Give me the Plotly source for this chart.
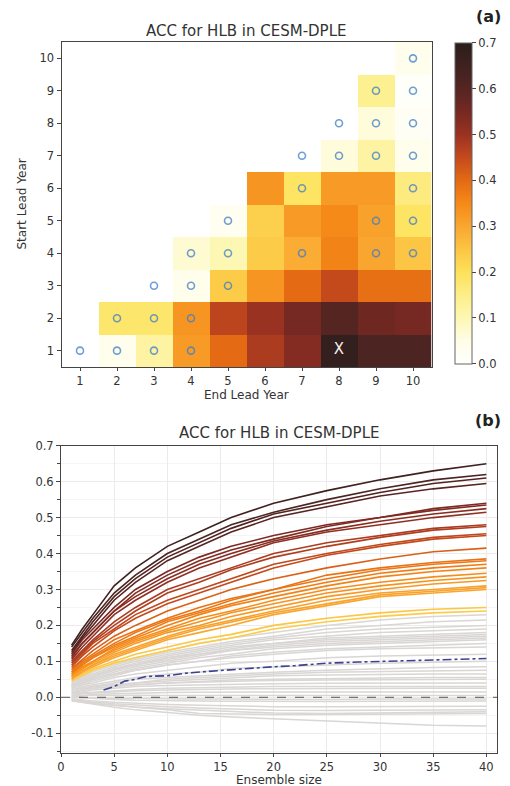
import plotly.graph_objects as go
from plotly.colors import sample_colorscale

# ---------------- data: panel (a) ----------------
END_YEARS = list(range(1, 11))
START_YEARS = list(range(1, 11))
# rows = start lead year 1..10, columns = end lead year 1..10
ACC_ROWS = [
    [0.00, 0.04, 0.12, 0.32, 0.40, 0.48, 0.53, 0.68, 0.62, 0.62],
    [None, 0.18, 0.18, 0.33, 0.46, 0.50, 0.55, 0.60, 0.56, 0.55],
    [None, None, 0.00, 0.04, 0.24, 0.33, 0.40, 0.45, 0.39, 0.39],
    [None, None, None, 0.07, 0.10, 0.24, 0.29, 0.36, 0.30, 0.25],
    [None, None, None, None, 0.03, 0.23, 0.32, 0.35, 0.31, 0.19],
    [None, None, None, None, None, 0.33, 0.19, 0.32, 0.32, 0.16],
    [None, None, None, None, None, None, 0.00, 0.06, 0.12, 0.04],
    [None, None, None, None, None, None, None, 0.00, 0.06, 0.02],
    [None, None, None, None, None, None, None, None, 0.14, 0.01],
    [None, None, None, None, None, None, None, None, None, 0.04],
]
O_END = [1, 2, 3, 4, 2, 3, 4, 3, 4, 5, 4, 5, 7, 9, 10, 5, 9, 10, 7, 10, 7, 8, 9, 10, 8, 9, 10, 9, 10, 10]
O_START = [1, 1, 1, 1, 2, 2, 2, 3, 3, 3, 4, 4, 4, 4, 4, 5, 5, 5, 6, 6, 7, 7, 7, 7, 8, 8, 8, 9, 9, 10]
X_END = [8]
X_START = [1]
CBAR_TICKS = [0.0, 0.1, 0.2, 0.3, 0.4, 0.5, 0.6, 0.7]

# ---------------- data: panel (b) ----------------
ENS = [1, 2, 3, 5, 7, 10, 13, 16, 20, 25, 30, 35, 40]
COLORED = [
    [0.045, 0.06, 0.075, 0.095, 0.11, 0.13, 0.15, 0.165, 0.19, 0.21, 0.225, 0.235, 0.24],
    [0.05, 0.065, 0.08, 0.10, 0.12, 0.14, 0.16, 0.175, 0.20, 0.22, 0.235, 0.245, 0.25],
    [0.05, 0.07, 0.085, 0.11, 0.13, 0.16, 0.18, 0.20, 0.23, 0.255, 0.28, 0.29, 0.30],
    [0.055, 0.07, 0.09, 0.115, 0.135, 0.165, 0.19, 0.21, 0.235, 0.26, 0.285, 0.295, 0.305],
    [0.055, 0.075, 0.09, 0.12, 0.14, 0.17, 0.195, 0.215, 0.24, 0.27, 0.29, 0.30, 0.31],
    [0.06, 0.08, 0.095, 0.125, 0.15, 0.18, 0.20, 0.225, 0.25, 0.28, 0.30, 0.315, 0.325],
    [0.06, 0.08, 0.10, 0.13, 0.155, 0.185, 0.21, 0.235, 0.26, 0.29, 0.31, 0.325, 0.335],
    [0.065, 0.085, 0.10, 0.135, 0.16, 0.19, 0.22, 0.24, 0.27, 0.30, 0.32, 0.335, 0.345],
    [0.065, 0.09, 0.11, 0.14, 0.165, 0.20, 0.23, 0.255, 0.28, 0.31, 0.335, 0.35, 0.36],
    [0.07, 0.09, 0.11, 0.145, 0.17, 0.21, 0.235, 0.26, 0.29, 0.32, 0.345, 0.36, 0.37],
    [0.07, 0.095, 0.115, 0.15, 0.18, 0.215, 0.24, 0.27, 0.30, 0.33, 0.355, 0.37, 0.38],
    [0.075, 0.10, 0.12, 0.16, 0.185, 0.22, 0.25, 0.275, 0.30, 0.34, 0.36, 0.375, 0.385],
    [0.08, 0.105, 0.13, 0.17, 0.20, 0.24, 0.27, 0.30, 0.33, 0.36, 0.385, 0.405, 0.415],
    [0.085, 0.115, 0.14, 0.185, 0.22, 0.26, 0.29, 0.32, 0.36, 0.395, 0.42, 0.44, 0.45],
    [0.09, 0.12, 0.15, 0.19, 0.23, 0.27, 0.30, 0.33, 0.37, 0.40, 0.425, 0.445, 0.455],
    [0.095, 0.125, 0.155, 0.20, 0.24, 0.29, 0.32, 0.355, 0.39, 0.42, 0.445, 0.465, 0.475],
    [0.10, 0.13, 0.16, 0.21, 0.25, 0.30, 0.33, 0.36, 0.40, 0.43, 0.45, 0.47, 0.48],
    [0.105, 0.14, 0.17, 0.23, 0.27, 0.32, 0.36, 0.39, 0.43, 0.46, 0.48, 0.50, 0.515],
    [0.115, 0.15, 0.18, 0.24, 0.28, 0.33, 0.37, 0.40, 0.435, 0.465, 0.49, 0.51, 0.525],
    [0.11, 0.15, 0.18, 0.24, 0.29, 0.34, 0.38, 0.41, 0.44, 0.475, 0.50, 0.52, 0.535],
    [0.12, 0.16, 0.19, 0.25, 0.30, 0.35, 0.39, 0.42, 0.45, 0.48, 0.50, 0.525, 0.54],
    [0.125, 0.165, 0.20, 0.27, 0.32, 0.38, 0.42, 0.46, 0.50, 0.53, 0.56, 0.58, 0.595],
    [0.13, 0.17, 0.21, 0.28, 0.33, 0.39, 0.43, 0.47, 0.51, 0.54, 0.57, 0.595, 0.61],
    [0.14, 0.18, 0.22, 0.29, 0.34, 0.40, 0.44, 0.48, 0.515, 0.55, 0.58, 0.605, 0.62],
    [0.145, 0.19, 0.23, 0.31, 0.36, 0.42, 0.46, 0.50, 0.54, 0.575, 0.605, 0.63, 0.65],
]
GREY = [
    [0.045, 0.06, 0.075, 0.095, 0.11, 0.13, 0.15, 0.165, 0.18, 0.20, 0.215, 0.225, 0.23],
    [0.04, 0.055, 0.07, 0.09, 0.105, 0.125, 0.14, 0.155, 0.17, 0.19, 0.20, 0.21, 0.215],
    [0.04, 0.055, 0.065, 0.085, 0.10, 0.12, 0.135, 0.15, 0.165, 0.18, 0.19, 0.195, 0.20],
    [0.035, 0.05, 0.06, 0.08, 0.095, 0.115, 0.13, 0.145, 0.16, 0.17, 0.18, 0.185, 0.19],
    [0.035, 0.05, 0.06, 0.08, 0.09, 0.11, 0.125, 0.14, 0.15, 0.165, 0.17, 0.175, 0.18],
    [0.03, 0.045, 0.055, 0.075, 0.09, 0.11, 0.12, 0.135, 0.15, 0.16, 0.165, 0.17, 0.175],
    [0.03, 0.04, 0.05, 0.07, 0.085, 0.10, 0.115, 0.13, 0.145, 0.155, 0.16, 0.165, 0.17],
    [0.035, 0.045, 0.055, 0.075, 0.09, 0.105, 0.12, 0.13, 0.14, 0.15, 0.155, 0.16, 0.165],
    [0.03, 0.04, 0.05, 0.065, 0.08, 0.095, 0.11, 0.12, 0.135, 0.145, 0.15, 0.155, 0.16],
    [0.025, 0.035, 0.045, 0.06, 0.075, 0.09, 0.10, 0.115, 0.125, 0.135, 0.14, 0.145, 0.15],
    [0.03, 0.04, 0.05, 0.065, 0.075, 0.09, 0.10, 0.11, 0.12, 0.13, 0.135, 0.138, 0.14],
    [0.025, 0.035, 0.04, 0.055, 0.065, 0.075, 0.085, 0.095, 0.10, 0.11, 0.115, 0.118, 0.12],
    [0.02, 0.03, 0.035, 0.045, 0.055, 0.065, 0.07, 0.08, 0.085, 0.09, 0.095, 0.098, 0.10],
    [0.02, 0.025, 0.03, 0.04, 0.05, 0.055, 0.06, 0.065, 0.07, 0.075, 0.08, 0.083, 0.085],
    [0.015, 0.02, 0.03, 0.035, 0.04, 0.05, 0.055, 0.06, 0.065, 0.07, 0.072, 0.074, 0.075],
    [0.02, 0.025, 0.03, 0.035, 0.04, 0.045, 0.05, 0.055, 0.06, 0.062, 0.064, 0.065, 0.065],
    [0.01, 0.02, 0.025, 0.03, 0.035, 0.04, 0.045, 0.048, 0.05, 0.052, 0.054, 0.055, 0.055],
    [0.015, 0.02, 0.025, 0.03, 0.035, 0.04, 0.042, 0.045, 0.047, 0.048, 0.049, 0.05, 0.05],
    [0.01, 0.015, 0.02, 0.025, 0.03, 0.033, 0.035, 0.037, 0.038, 0.039, 0.04, 0.04, 0.04],
    [0.01, 0.012, 0.015, 0.02, 0.022, 0.025, 0.027, 0.028, 0.03, 0.03, 0.03, 0.03, 0.03],
    [0.005, 0.01, 0.012, 0.015, 0.018, 0.02, 0.022, 0.023, 0.024, 0.025, 0.025, 0.025, 0.025],
    [0.0, 0.005, 0.008, 0.01, 0.012, 0.013, 0.014, 0.015, 0.015, 0.015, 0.015, 0.015, 0.015],
    [0.005, 0.006, 0.006, 0.005, 0.006, 0.005, 0.005, 0.006, 0.005, 0.005, 0.005, 0.005, 0.005],
    [0.0, 0.0, -0.002, -0.003, -0.004, -0.005, -0.005, -0.005, -0.006, -0.006, -0.005, -0.005, -0.005],
    [0.0, -0.002, -0.004, -0.006, -0.008, -0.01, -0.01, -0.011, -0.012, -0.012, -0.011, -0.01, -0.01],
    [-0.005, -0.008, -0.01, -0.014, -0.017, -0.02, -0.022, -0.024, -0.026, -0.026, -0.025, -0.025, -0.025],
    [-0.005, -0.01, -0.013, -0.018, -0.022, -0.026, -0.03, -0.033, -0.036, -0.037, -0.036, -0.035, -0.035],
    [-0.01, -0.014, -0.017, -0.022, -0.027, -0.032, -0.036, -0.04, -0.044, -0.045, -0.043, -0.041, -0.04],
    [-0.008, -0.012, -0.016, -0.022, -0.028, -0.035, -0.045, -0.047, -0.048, -0.048, -0.047, -0.046, -0.045],
    [-0.01, -0.015, -0.02, -0.028, -0.035, -0.043, -0.05, -0.055, -0.06, -0.066, -0.072, -0.078, -0.08],
]
THRESH_N = [4, 5, 6, 7, 8, 10, 12, 15, 18, 20, 22, 25, 28, 30, 35, 40]
THRESH_ACC = [0.02, 0.03, 0.045, 0.05, 0.058, 0.06, 0.068, 0.075, 0.08, 0.085, 0.088, 0.095, 0.098, 0.10, 0.105, 0.108]
X_TICKS_B = [0, 5, 10, 15, 20, 25, 30, 35, 40]
Y_TICKS_B = [-0.1, 0.0, 0.1, 0.2, 0.3, 0.4, 0.5, 0.6, 0.7]

# ---------------- style ----------------
FONT = "DejaVu Sans"
TXT = "#333333"
CSCALE = [
    [0.0, "#ffffff"],
    [0.071, "#fffde6"],
    [0.143, "#fdf7b4"],
    [0.214, "#fdee88"],
    [0.286, "#fde15a"],
    [0.357, "#fcc544"],
    [0.429, "#f9a630"],
    [0.5, "#f58a18"],
    [0.571, "#e46a14"],
    [0.643, "#c44a1c"],
    [0.714, "#9a3222"],
    [0.786, "#762822"],
    [0.857, "#552522"],
    [1.0, "#2a1e1c"],
]
ZMAX = 0.7
PAGE_W, PAGE_H = 510, 786
BODY = 8  # default page body margin around the plot div
W, H = PAGE_W - BODY, PAGE_H - BODY
TICK_SIZE = 11.5


def px_x(p):
    return (p - BODY) / W


def px_y(p):
    return 1 - (p - BODY) / H


fig = go.Figure()

# panel (a)
fig.add_trace(go.Heatmap(
    x=END_YEARS, y=START_YEARS, z=ACC_ROWS, zmin=0, zmax=ZMAX,
    colorscale=CSCALE, xaxis="x", yaxis="y", hoverongaps=False,
    colorbar=dict(
        x=px_x(455), xanchor="left", xpad=0, ypad=0,
        thickness=17, thicknessmode="pixels",
        len=(364 - 42.7) / H, lenmode="fraction",
        y=px_y((364 + 42.7) / 2), yanchor="middle",
        tickvals=CBAR_TICKS, ticktext=[f"{v:.1f}" for v in CBAR_TICKS],
        ticks="outside", ticklen=4, tickcolor="#444",
        outlinecolor="#666", outlinewidth=1,
        tickfont=dict(family=FONT, size=TICK_SIZE, color=TXT),
    ),
))
fig.add_trace(go.Scatter(
    x=O_END, y=O_START, mode="markers", xaxis="x", yaxis="y",
    marker=dict(symbol="circle-open", size=7, color="rgba(60,125,200,0.75)",
                line=dict(width=1.6, color="rgba(60,125,200,0.75)")),
    showlegend=False, hoverinfo="skip",
))
fig.add_trace(go.Scatter(
    x=X_END, y=X_START, mode="text", text=["X"], xaxis="x", yaxis="y",
    textfont=dict(family=FONT, size=15, color="#f4eeee"),
    showlegend=False, hoverinfo="skip",
))

# panel (b)
for g in GREY:
    fig.add_trace(go.Scatter(
        x=ENS, y=g, mode="lines", xaxis="x2", yaxis="y2",
        line=dict(color="#d9d6d4", width=1.5), showlegend=False, hoverinfo="skip",
    ))
for c in COLORED:
    col = sample_colorscale(CSCALE, [min(c[-1] / ZMAX, 1.0)])[0]
    fig.add_trace(go.Scatter(
        x=ENS, y=c, mode="lines", xaxis="x2", yaxis="y2",
        line=dict(color=col, width=1.6), showlegend=False, hoverinfo="skip",
    ))
fig.add_trace(go.Scatter(
    x=THRESH_N, y=THRESH_ACC, mode="lines", xaxis="x2", yaxis="y2",
    line=dict(color="#3a4390", width=1.6, dash="dashdot"),
    showlegend=False, hoverinfo="skip",
))
fig.add_shape(type="line", xref="x2 domain", yref="y2", x0=0, x1=1, y0=0, y1=0,
              line=dict(color="#555555", width=1, dash="dash"), layer="above")

axis_common = dict(
    showline=True, mirror=True, linecolor="#444", linewidth=1,
    ticks="outside", tickcolor="#444", zeroline=False,
    tickfont=dict(family=FONT, size=TICK_SIZE, color=TXT),
)

fig.update_layout(
    width=W, height=H, margin=dict(l=0, r=0, t=0, b=0, pad=0, autoexpand=False),
    paper_bgcolor="white", plot_bgcolor="white", showlegend=False,
    xaxis=dict(domain=[px_x(61.5), px_x(431.5)], range=[0.5, 10.5], anchor="y",
               tickvals=END_YEARS, showgrid=False, ticklen=3, **axis_common),
    yaxis=dict(domain=[px_y(366.9), px_y(42.1)], range=[0.5, 10.5], anchor="x",
               tickvals=START_YEARS, showgrid=False, ticklen=4, **axis_common),
    xaxis2=dict(domain=[px_x(61), px_x(497)], range=[0, 41], anchor="y2",
                tickvals=X_TICKS_B, showgrid=True, gridcolor="#ebebeb", gridwidth=1,
                ticklen=3, **axis_common),
    yaxis2=dict(domain=[px_y(753), px_y(445.7)], range=[-0.155, 0.7], anchor="x2",
                tickvals=Y_TICKS_B, ticktext=[f"{v:.1f}" for v in Y_TICKS_B],
                showgrid=True, gridcolor="#ebebeb", gridwidth=1, ticklen=4,
                minor=dict(dtick=0.05, tick0=0, ticks="outside", ticklen=3,
                           tickcolor="#444", showgrid=True, gridcolor="#f5f5f5"),
                **axis_common),
)

ann = [
    dict(text="ACC for HLB in CESM-DPLE", x=px_x(246.5), y=px_y(31.5), size=15, bold=False),
    dict(text="ACC for HLB in CESM-DPLE", x=px_x(279), y=px_y(433), size=15, bold=False),
    dict(text="<b>(a)</b>", x=px_x(488), y=px_y(17), size=16, bold=True),
    dict(text="<b>(b)</b>", x=px_x(488), y=px_y(420), size=16, bold=True),
    dict(text="End Lead Year", x=px_x(246.5), y=px_y(395), size=12, bold=False),
    dict(text="Ensemble size", x=px_x(279), y=px_y(779.5), size=12, bold=False),
]
for a in ann:
    fig.add_annotation(text=a["text"], x=a["x"], y=a["y"], xref="paper", yref="paper",
                       showarrow=False, xanchor="center", yanchor="middle",
                       font=dict(family=FONT, size=a["size"], color="#222" if a["bold"] else TXT))
fig.add_annotation(text="Start Lead Year", x=px_x(21), y=px_y(204.5), xref="paper", yref="paper",
                   showarrow=False, textangle=-90, xanchor="center", yanchor="middle",
                   font=dict(family=FONT, size=12, color=TXT))

fig.write_html("out.html")
